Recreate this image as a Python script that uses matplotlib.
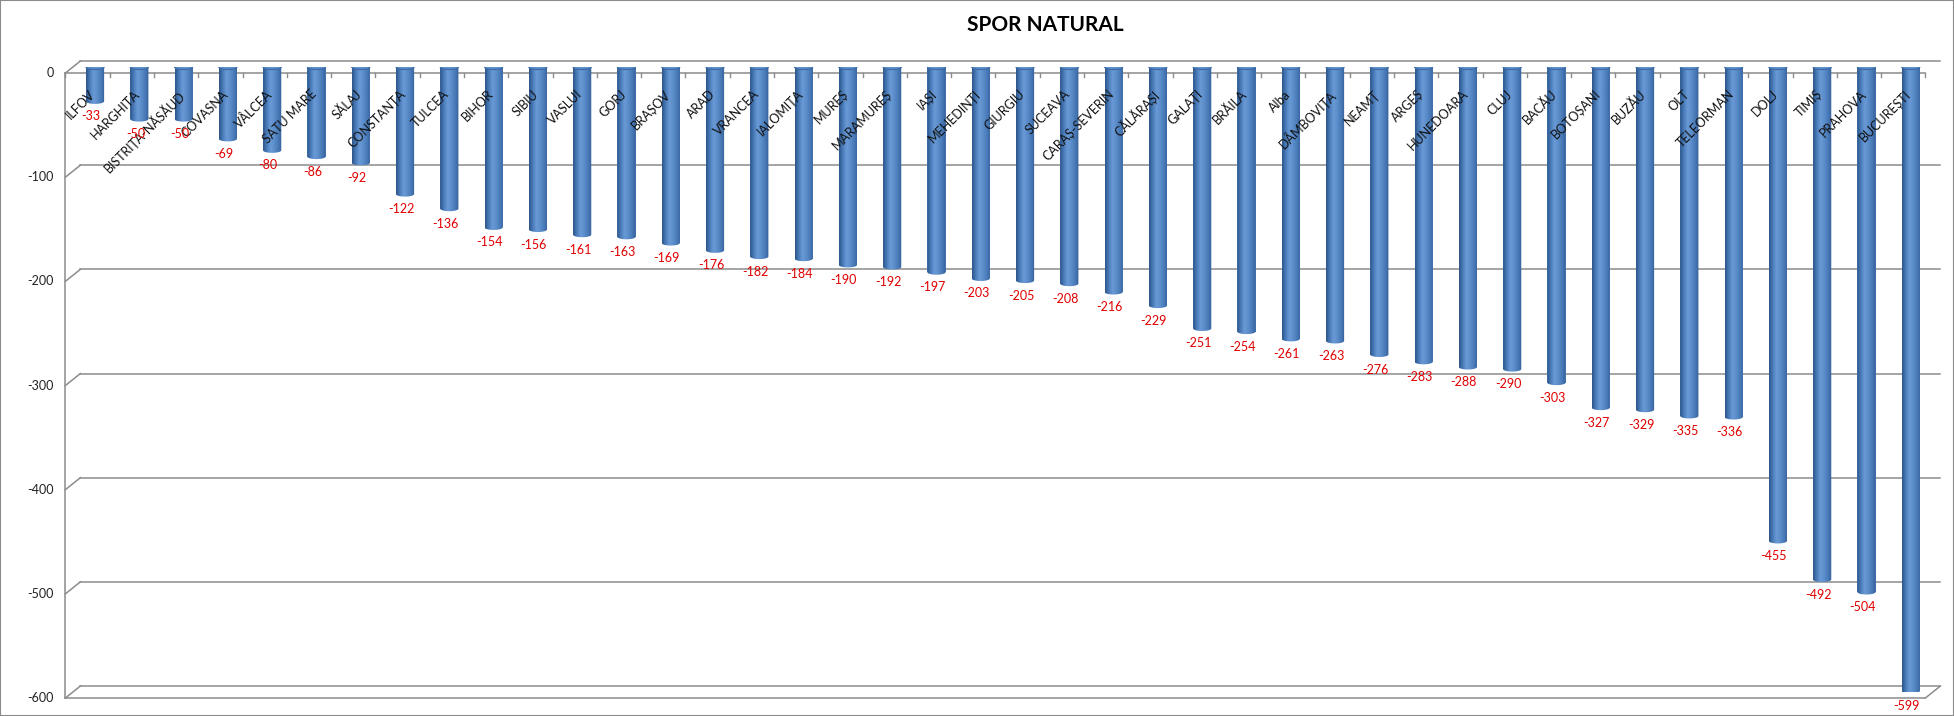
import numpy as np
import matplotlib
matplotlib.use("Agg")
import matplotlib.pyplot as plt
from matplotlib.colors import LinearSegmentedColormap
from matplotlib.patches import Ellipse, PathPatch, Rectangle
from matplotlib.path import Path
from matplotlib.transforms import ScaledTranslation

# -------- DATA --------
judete = ["ILFOV", "HARGHITA", "BISTRIȚA-NĂSĂUD", "COVASNA", "VÂLCEA", "SATU MARE",
          "SĂLAJ", "CONSTANȚA", "TULCEA", "BIHOR", "SIBIU", "VASLUI", "GORJ", "BRAȘOV",
          "ARAD", "VRANCEA", "IALOMIȚA", "MUREȘ", "MARAMUREȘ", "IAȘI", "MEHEDINȚI",
          "GIURGIU", "SUCEAVA", "CARAȘ-SEVERIN", "CĂLĂRAȘI", "GALAȚI", "BRĂILA", "Alba",
          "DÂMBOVIȚA", "NEAMȚ", "ARGEȘ", "HUNEDOARA", "CLUJ", "BACĂU", "BOTOȘANI",
          "BUZĂU", "OLT", "TELEORMAN", "DOLJ", "TIMIȘ", "PRAHOVA", "BUCUREȘTI"]
spor = [-33, -50, -50, -69, -80, -86, -92, -122, -136, -154, -156, -161, -163, -169,
        -176, -182, -184, -190, -192, -197, -203, -205, -208, -216, -229, -251, -254,
        -261, -263, -276, -283, -288, -290, -303, -327, -329, -335, -336, -455, -492,
        -504, -599]
y_ticks = [0, -100, -200, -300, -400, -500, -600]

# -------- STYLE --------
FONT = ["Lato", "DejaVu Sans"]
plt.rcParams["font.family"] = FONT
GRID = "#8c8c8c"
BAR_W = 0.41
DPI = 100

fig = plt.figure(figsize=(19.54, 7.16), dpi=DPI)
ax = fig.add_axes([0.0373, 0.0335, 0.9519, 0.8729])
ax.set_xlim(-0.5, len(judete) - 0.5)
ax.set_ylim(-600, 0)
ax.axis("off")

# pixel -> data conversions for the fake 3D depth
px_x = (fig.get_figwidth() * DPI * 0.9519) / len(judete)
px_y = (fig.get_figheight() * DPI * 0.8729) / 600
dx = 7.5 / px_x
dy = 6.0 / px_y
x0, x1 = ax.get_xlim()

# -------- WALLS / GRID --------
for v in y_ticks:
    ax.plot([x0 + dx, x1 + dx], [v + dy, v + dy], color=GRID, lw=1.1, zorder=0.5, clip_on=False)
    ax.plot([x0 - dx, x0 + dx], [v - dy, v + dy], color=GRID, lw=1.1, zorder=0.5, clip_on=False)
    ax.text(x0 - dx - 12 / px_x, v - dy, str(v), ha="right", va="center", fontsize=9, color="#222222")

# left wall + front edges
ax.plot([x0 - dx, x0 - dx], [-600 - dy, 0 - dy], color=GRID, lw=1.1, zorder=0.5, clip_on=False)
ax.plot([x0 - dx, x1 - dx], [-dy, -dy], color=GRID, lw=1.1, zorder=0.6, clip_on=False)
ax.plot([x0 - dx, x1 - dx], [-600 - dy, -600 - dy], color=GRID, lw=1.1, zorder=0.6, clip_on=False)
ax.plot([x1 - dx, x1 + dx], [-600 - dy, -600 + dy], color=GRID, lw=1.1, zorder=0.6, clip_on=False)
for b in np.arange(x0, x1 + 0.01, 1.0):
    ax.plot([b - dx, b - dx], [-dy, -dy - 3.5 / px_y], color=GRID, lw=1.0, zorder=0.6, clip_on=False)

# -------- CYLINDERS --------
cyl = LinearSegmentedColormap.from_list(
    "cyl", ["#2c5589", "#4a7cbb", "#6a9bd6", "#5b8dcc", "#4a7bb8", "#35609a"])
grad = np.linspace(0, 1, 64).reshape(1, -1)
eh = 5.0 / px_y

xs = np.arange(len(judete))
ax.bar(xs, spor, BAR_W, color="#4f81bd", zorder=2)
theta = np.linspace(np.pi, 2 * np.pi, 30)
for xi, v in zip(xs, spor):
    left, right = xi - BAR_W / 2, xi + BAR_W / 2
    verts = [(left, 0), (left, v)]
    verts += list(zip(xi + BAR_W / 2 * np.cos(theta), v + eh / 2 * np.sin(theta)))
    verts += [(right, 0), (left, 0)]
    clip = PathPatch(Path(verts, closed=True), transform=ax.transData, fc="none", ec="none")
    ax.add_patch(clip)
    img = ax.imshow(grad, cmap=cyl, extent=[left, right, v - eh, 0], aspect="auto",
                    zorder=2.1, interpolation="bicubic")
    img.set_clip_path(clip)
    ax.add_patch(Ellipse((xi, 0), BAR_W, eh, fc="#5e8fcd", ec="#3d6aa3", lw=0.8, zorder=2.2))

# -------- LABELS --------
off_cat = ScaledTranslation(-6 / DPI, -21 / DPI, fig.dpi_scale_trans)
off_val = ScaledTranslation(-4 / DPI, -15 / DPI, fig.dpi_scale_trans)
for xi, name, v in zip(xs, judete, spor):
    ax.text(xi, 0, name, rotation=45, rotation_mode="anchor", ha="right", va="top",
            fontsize=9, color="#111111", zorder=4, transform=ax.transData + off_cat)
    ax.text(xi, v, str(v), ha="center", va="center", fontsize=9, color="#e00000",
            zorder=5, transform=ax.transData + off_val)

fig.text(0.535, 0.965, "SPOR NATURAL", ha="center", va="center", fontsize=15,
         fontweight="bold", color="black")

# outer chart border
fig.add_artist(Rectangle((0, 0), 1, 1, transform=fig.transFigure, fill=False,
                         ec="#8a8a8a", lw=1.5))

fig.savefig("out.png", dpi=DPI)
